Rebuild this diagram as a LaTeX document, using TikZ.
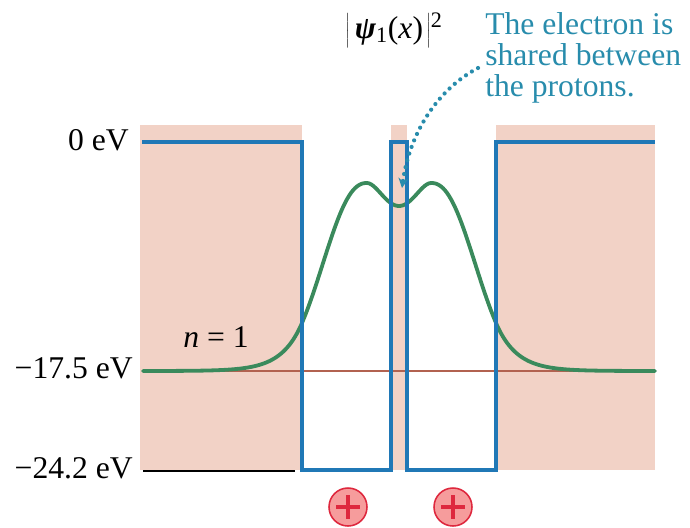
\documentclass[tikz,border=0pt]{standalone}
\usepackage{fontspec}
\setmainfont{Liberation Serif}
\usetikzlibrary{arrows.meta,calc,positioning}
\definecolor{barrierpink}{RGB}{242,210,198}
\definecolor{wellblue}{RGB}{32,120,182}
\definecolor{probgreen}{RGB}{58,138,92}
\definecolor{levelbrown}{RGB}{178,98,80}
\definecolor{noteteal}{RGB}{40,140,172}
\definecolor{protonfill}{RGB}{246,156,156}
\definecolor{protonred}{RGB}{222,40,62}
\tikzset{
  every node/.style={font=\fontsize{22.5}{22}\selectfont, inner sep=0pt},
  barrier/.style={fill=barrierpink},
  well/.style={draw=wellblue, line width=2.9pt, line join=miter},
  prob curve/.style={draw=probgreen, line width=2.7pt, line cap=round},
  level/.style={line width=1.1pt},
  note/.style={text=noteteal, align=left},
  note arrow/.style={draw=noteteal, line width=3pt, line cap=round,
    dash pattern=on 0pt off 5pt, -{Stealth[length=7pt,width=7pt]}},
  proton/.style={circle, draw=protonred, fill=protonfill, line width=1.1pt,
    minimum size=0.95cm},
  plus arm/.style={draw=protonred, line width=2.4pt},
  declare function={
    dist(\x)=abs(\x-399);
    top(\v)=188*exp(-pow(max(min(\v,65),0.01)/56.8,2.3));
    tail(\v)=48*exp(-(max(\v,65)-65)/20.7);
    outer(\u)=(\u<=97) ? top(\u-32) : tail(\u-32);
    inner(\u)=188-23*(1-(min(\u,32)/32)^2)^2;
    hump(\u)=(\u>=32) ? outer(\u) : inner(\u);
  }
}

\begin{document}
\begin{tikzpicture}[x=0.025cm, y=-0.025cm]
  \useasboundingbox (0,0) rectangle (690,527);

  % barriers
  \foreach \l/\r in {140/302,391/407,496/655} {
    \fill[barrier] (\l,125) rectangle (\r,470);
  }

  % energy levels
  \draw[level, levelbrown] (143,371) -- (655,371);
  \draw[level, black] (143,471) -- (295,471);

  % probability density
  \draw[prob curve] plot[domain=143:655, samples=257, smooth]
    (\x,{371-hump(dist(\x))});

  % potential energy
  \draw[well] (142,142) -- (302,142) -- (302,470) -- (391,470) -- (391,142)
    -- (407,142) -- (407,470) -- (496,470) -- (496,142) -- (655,142);

  % labels
  \node[anchor=base east] (zero) at (129,150) {0 eV};
  \node[anchor=base east] (ground) at (133,378) {−17.5 eV};
  \node[anchor=base east] (bottom) at (133,478) {−24.2 eV};
  \node[anchor=base] (level) at (216,347) {\textit{n} = 1};
  \node[anchor=base west] (psi) at (345,38)
    {$\left|\vrule height 18pt depth 7pt width 0pt\mkern3mu
      \hbox{\textbf{\textit{ψ}}\textsubscript{1}(\textit{x})}\mkern2mu\right|$\textsuperscript{2}};
  \node[note, anchor=north west] (shared) at (485,12)
    {The electron is\\shared between\\the protons.};

  % arrow to the barrier
  \coordinate (tail) at (478,68);
  \coordinate (tip) at (402,188);
  \draw[note arrow] (tail) .. controls (440,88) and (410,130) .. (tip);

  % protons
  \foreach \n/\x in {p1/348,p2/453} {
    \node[proton] (\n) at (\x,507) {};
    \draw[plus arm] ($(\n.center)+(-12,0)$) -- ($(\n.center)+(12,0)$);
    \draw[plus arm] ($(\n.center)+(0,-12)$) -- ($(\n.center)+(0,12)$);
  }
\end{tikzpicture}
\end{document}
